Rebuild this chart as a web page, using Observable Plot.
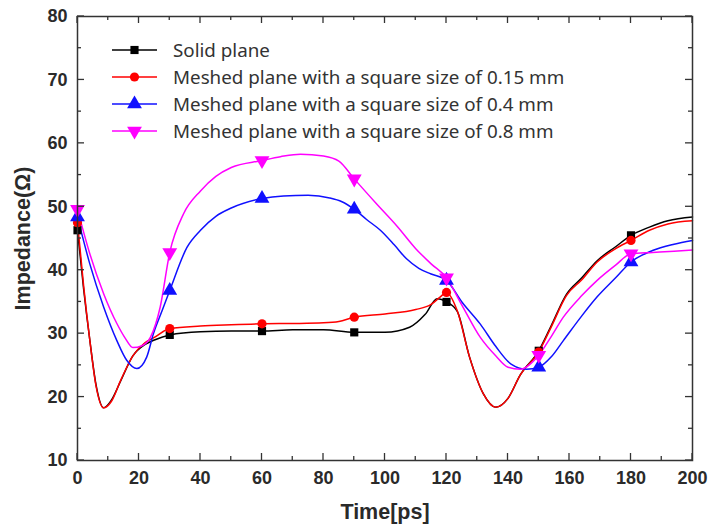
<!DOCTYPE html>
<html><head><meta charset="utf-8">
<script src="https://cdn.jsdelivr.net/npm/d3@7"></script>
<script src="https://cdn.jsdelivr.net/npm/@observablehq/plot@0.6"></script>
<style>
html,body{margin:0;padding:0;background:#fff;}
#wrap{position:relative;width:709px;height:529px;}
#legend{position:absolute;left:0;top:0;pointer-events:none;}
</style></head><body><div id="wrap"></div>
<script>
// ---- data ----
const seriesNames = [
  "Solid plane",
  "Meshed plane with a square size of 0.15 mm",
  "Meshed plane with a square size of 0.4 mm",
  "Meshed plane with a square size of 0.8 mm"
];
const seriesColors = ["#000000", "#ff0000", "#1010ff", "#ff00ff"];
const seriesSymbols = ["square", "circle", "triangle", "triangle"];
const seriesRotate = [0, 0, 0, 180];

const solidT = [0,2,4,6,8.5,11,14,18,22,25,30,40,50,60,70,80,90,100,108,113,117,120,123.5,127.5,132,136,140,144,150,154,159,164,169,175,180,186,192,200];
const solidZ = [46.3,37,29,22,18.3,19.5,22.5,26.5,28.3,29,29.8,30.3,30.4,30.4,30.6,30.6,30.2,30.2,31,33,35.5,35.0,33.5,26.3,20.5,18.4,19.8,23.5,27.3,31.2,36.2,38.8,41.5,43.7,45.5,46.8,47.8,48.4];

const mesh015T = [0,2,4,6,8.5,11,14,18,22,25,30,40,50,60,70,80,85,90,100,110,115,118,120,123.5,127.5,132,136,140,144,150,154,159,164,169,175,180,186,192,200];
const mesh015Z = [47.5,37.5,29,21.8,18.3,19.3,22.6,26.5,28.6,29.4,30.8,31.2,31.4,31.55,31.6,31.7,31.9,32.6,33.1,33.8,34.6,35.8,36.5,33.6,26.3,20.5,18.4,19.8,23.5,27.1,31,36,38.5,41.3,43.4,44.7,46.3,47.3,47.8];

const mesh04T = [0,4,8.5,12.8,16,19.3,22.5,24.7,27.5,30,35.6,40,45,50,60,67,75,82,86,90,94,98.5,103,107,111,115,120,125,131,136,141,146,150,154,158,164,169,175,180,187,194,200];
const mesh04Z = [48.4,41,34.2,28.9,25.8,24.5,26.3,30,33.6,36.8,43.6,46.3,48.5,49.8,51.3,51.7,51.8,51.4,50.8,49.6,48,46.3,44,41.8,40.3,39.4,38.4,35,31.5,28,25.2,24.4,24.7,26.3,28.9,32.8,35.8,38.8,41.3,43.1,44.1,44.7];

const mesh08T = [0,4,8.5,12.8,15.5,18,21,23.7,26.9,30,34.5,40,45,50,60,66,72.5,80,85,90,97,104,110,115,120,125,131,136,140,144,150,154,158,164,169,175,180,187,194,200];
const mesh08Z = [49.6,42.6,36.3,31.6,29.3,27.8,28.1,29.4,34.2,42.8,48.9,52.5,54.8,56.2,57.3,57.9,58.3,58,57.2,54.4,50.6,46.9,43.4,41,38.8,34.5,29.4,26.5,24.7,24.4,26.6,29.5,32.6,36,38.4,40.8,42.6,42.8,43,43.2];

const markerTimes = [0,30,60,90,120,150,180];
const xMajorTicks = [0,20,40,60,80,100,120,140,160,180,200];
const xMinorTicks = [10,30,50,70,90,110,130,150,170,190];
const yMajorTicks = [10,20,30,40,50,60,70,80];
const yMinorTicks = [15,25,35,45,55,65,75];

// ---- layout ----
const W = 709, H = 529, mL = 77, mR = 17, mT = 16, mB = 69;
const innerW = W - mL - mR, innerH = H - mT - mB;
const majorLen = 7, minorLen = 4;

// ---- build table ----
const allT = [solidT, mesh015T, mesh04T, mesh08T];
const allZ = [solidZ, mesh015Z, mesh04Z, mesh08Z];
const rows = [];
allT.forEach((ts, i) => ts.forEach((t, j) => rows.push({s: i, t, z: allZ[i][j]})));
const markers = rows.filter(d => markerTimes.includes(d.t));

const marks = [];
for (let i = 0; i < 4; i++) {
  marks.push(Plot.line(rows.filter(d => d.s === i), {x: "t", y: "z", stroke: seriesColors[i], strokeWidth: 1.5, curve: "monotone-x"}));
}
for (let i = 0; i < 4; i++) {
  marks.push(Plot.dot(markers.filter(d => d.s === i), {x: "t", y: "z", fill: seriesColors[i], stroke: "none", symbol: seriesSymbols[i], rotate: seriesRotate[i], r: seriesSymbols[i] === "triangle" ? 5.5 : 4.6}));
}

const chart = Plot.plot({
  width: W, height: H,
  marginLeft: mL, marginRight: mR, marginTop: mT, marginBottom: mB,
  style: {fontFamily: "'Liberation Sans', Arial, sans-serif", fontSize: "18px", fontWeight: "bold", color: "#2a2a2a", background: "#fff"},
  x: {domain: [0, 200]},
  y: {domain: [10, 80]},
  marks: [
    ...marks,
    Plot.axisX({anchor: "bottom", ticks: xMajorTicks, tickSize: 0, tickPadding: 11, label: null}),
    Plot.axisY({anchor: "left", ticks: yMajorTicks, tickSize: 0, tickPadding: 10, label: null}),
    Plot.axisX({anchor: "bottom", ticks: [], tickSize: 0, label: "Time[ps]", labelAnchor: "center", labelOffset: 58, labelArrow: "none", fontSize: 21.5}),
    Plot.axisY({anchor: "left", ticks: [], tickSize: 0, label: "Impedance(Ω)", labelAnchor: "center", labelOffset: 63, labelArrow: "none", fontSize: 21.5}),
    Plot.frame({stroke: "#333", strokeWidth: 1.5})
  ]
});
const wrap = document.getElementById("wrap");
wrap.appendChild(chart);

// ---- overlay: inward ticks (via Plot's own scales) and legend ----
const xs = chart.scale("x"), ys = chart.scale("y");
const ov = d3.select(wrap).append("svg").attr("id", "legend").attr("width", W).attr("height", H);
const tg = ov.append("g").attr("stroke", "#333").attr("stroke-width", 1.3);
const x0 = mL, x1 = W - mR, y0 = mT, y1 = H - mB;
[[xMajorTicks, majorLen], [xMinorTicks, minorLen]].forEach(([ticks, len]) => ticks.forEach(t => {
  const px = xs.apply(t);
  tg.append("line").attr("x1", px).attr("x2", px).attr("y1", y1).attr("y2", y1 - len);
  tg.append("line").attr("x1", px).attr("x2", px).attr("y1", y0).attr("y2", y0 + len);
}));
[[yMajorTicks, majorLen], [yMinorTicks, minorLen]].forEach(([ticks, len]) => ticks.forEach(v => {
  const py = ys.apply(v);
  tg.append("line").attr("y1", py).attr("y2", py).attr("x1", x0).attr("x2", x0 + len);
  tg.append("line").attr("y1", py).attr("y2", py).attr("x1", x1).attr("x2", x1 - len);
}));

const symGen = {square: d3.symbolSquare, circle: d3.symbolCircle, triangle: d3.symbolTriangle};
seriesNames.forEach((name, i) => {
  const y = 50 + i * 27;
  const g = ov.append("g").attr("transform", `translate(0,${y})`);
  g.append("line").attr("x1", 112).attr("x2", 157).attr("y1", 0).attr("y2", 0).attr("stroke", seriesColors[i]).attr("stroke-width", 1.5);
  const r = seriesSymbols[i] === "triangle" ? 5.5 : 4.6;
  g.append("path").attr("d", d3.symbol(symGen[seriesSymbols[i]], Math.PI * r * r)())
    .attr("transform", `translate(134.5,0) rotate(${seriesRotate[i]})`).attr("fill", seriesColors[i]);
  g.append("text").attr("x", 173).attr("y", 0).attr("dy", "0.35em").text(name)
    .attr("font-family", "'Noto Sans', sans-serif").attr("font-size", 18.8).attr("fill", "#333");
});
</script></body></html>
